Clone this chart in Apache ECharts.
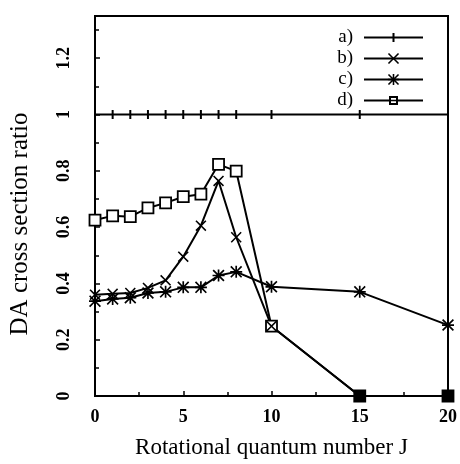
<!DOCTYPE html>
<html>
<head>
<meta charset="utf-8">
<script src="https://cdn.jsdelivr.net/npm/echarts@6/dist/echarts.min.js"></script>
<style>
  html, body { margin: 0; padding: 0; background: #fff; }
  #chart { width: 460px; height: 464px; }
</style>
</head>
<body>
<div id="chart"></div>
<script>
// rotational quantum number J
const jValues = [0, 1, 2, 3, 4, 5, 6, 7, 8, 10, 15, 20];

// DA cross section ratio
const seriesA = [1, 1, 1, 1, 1, 1, 1, 1, 1, 1, 1, 1];
const seriesB = [0.36, 0.363, 0.366, 0.384, 0.411, 0.495, 0.605, 0.764, 0.564, 0.248, 0, 0];
const seriesC = [0.337, 0.345, 0.349, 0.366, 0.37, 0.386, 0.386, 0.428, 0.441, 0.388, 0.37, 0.252];
const seriesD = [0.625, 0.64, 0.637, 0.668, 0.686, 0.708, 0.717, 0.823, 0.799, 0.248, 0, 0];

const names = ['a)', 'b)', 'c)', 'd)'];
const yLabels = [0, 0.2, 0.4, 0.6, 0.8, 1, 1.2];

const font = 'Liberation Serif';

// marker shapes
const tickPath = 'path://M0,0H2V9H0Z';
const tickLegend = 'path://M0,6H59V8H0Z M28.5,2.5H30.5V11.5H28.5Z';
const squareLegend = 'path://M0,6H25V8H0Z M34,6H59V8H34Z M25,2.5H34V11.5H25Z M27,4.5V9.5H32V4.5Z M27,6.3H32V7.7H27Z';
const crossPath = 'path://M0,1L1,0L5,4L9,0L10,1L6,5L10,9L9,10L5,6L1,10L0,9L4,5Z';
const starPath = 'path://M0,1L1,0L5,4L9,0L10,1L6,5L10,9L9,10L5,6L1,10L0,9L4,5Z' +
  'M4.3,0H5.7V10H4.3Z M0,4.3H10V5.7H0Z';

function pairs(vals) {
  return jValues.map((j, i) => [j, vals[i]]);
}

const chart = echarts.init(document.getElementById('chart'));

const baseLine = { color: '#000', width: 2 };

const option = {
  animation: false,
  backgroundColor: '#fff',
  grid: {
    left: 95, right: 12, top: 16, bottom: 67,
    show: true, borderColor: '#000', borderWidth: 2, backgroundColor: 'transparent'
  },
  legend: {
    orient: 'vertical',
    right: 31,
    top: 23,
    align: 'right',
    itemWidth: 59,
    itemHeight: 14,
    itemGap: 2,
    textStyle: { fontFamily: font, fontSize: 19, color: '#000', padding: [0, 6, 0, 0] },
    data: [
      { name: names[0], icon: tickLegend },
      names[1], names[2],
      { name: names[3], icon: squareLegend, itemStyle: { color: '#000', borderWidth: 0 } }
    ]
  },
  xAxis: {
    type: 'value',
    min: 0, max: 20, interval: 5,
    name: 'Rotational quantum number J',
    nameLocation: 'middle',
    nameGap: 40,
    nameTextStyle: { fontFamily: font, fontSize: 23, color: '#000' },
    axisLine: { lineStyle: { color: '#000', width: 2 } },
    axisTick: { inside: true, length: 5, lineStyle: { color: '#000', width: 1.5 } },
    minorTick: { show: true, splitNumber: 2, length: 4, lineStyle: { color: '#000', width: 1.5 } },
    splitLine: { show: false },
    axisLabel: { fontFamily: font, fontSize: 18, fontWeight: 'bold', color: '#000', margin: 12 }
  },
  yAxis: [
    {
      type: 'value',
      min: 0, max: 1.35, interval: 0.2,
      name: 'DA cross section ratio',
      nameLocation: 'middle',
      nameGap: 62,
      nameTextStyle: { fontFamily: font, fontSize: 25, color: '#000', padding: [0, 36, 0, 0] },
      axisLine: { lineStyle: { color: '#000', width: 2 } },
      axisTick: { inside: true, length: 5, lineStyle: { color: '#000', width: 1.5 } },
      splitLine: { show: false },
      axisLabel: {
        fontFamily: font, fontSize: 18, fontWeight: 'bold', color: '#000',
        rotate: 90, margin: 22,
        formatter: function (v) {
          const hit = yLabels.find(l => Math.abs(l - v) < 1e-6);
          return hit === undefined ? '' : String(hit);
        }
      }
    },
    {
      // minor ticks every 0.1
      type: 'value',
      min: 0, max: 1.35, interval: 0.1,
      position: 'left',
      axisLine: { show: false },
      axisTick: { inside: true, length: 4, lineStyle: { color: '#000', width: 1.5 } },
      axisLabel: { show: false },
      splitLine: { show: false }
    }
  ],
  series: [
    {
      name: names[0], type: 'line', data: pairs(seriesA),
      symbol: tickPath, symbolSize: 9, symbolKeepAspect: true,
      lineStyle: baseLine,
      itemStyle: { color: '#000' }
    },
    {
      name: names[3], type: 'line',
      data: pairs(seriesD).map(p => p[1] === 0 ? { value: p, itemStyle: { color: '#000' } } : p),
      symbol: 'rect', symbolSize: 11,
      lineStyle: baseLine,
      itemStyle: { color: '#fff', borderColor: '#000', borderWidth: 1.8 }
    },
    {
      name: names[1], type: 'line', data: pairs(seriesB),
      symbol: crossPath, symbolSize: 11,
      lineStyle: baseLine,
      itemStyle: { color: '#000' }
    },
    {
      name: names[2], type: 'line', data: pairs(seriesC),
      symbol: starPath, symbolSize: 12,
      lineStyle: baseLine,
      itemStyle: { color: '#000' }
    }
  ]
};

chart.setOption(option);
</script>
</body>
</html>
